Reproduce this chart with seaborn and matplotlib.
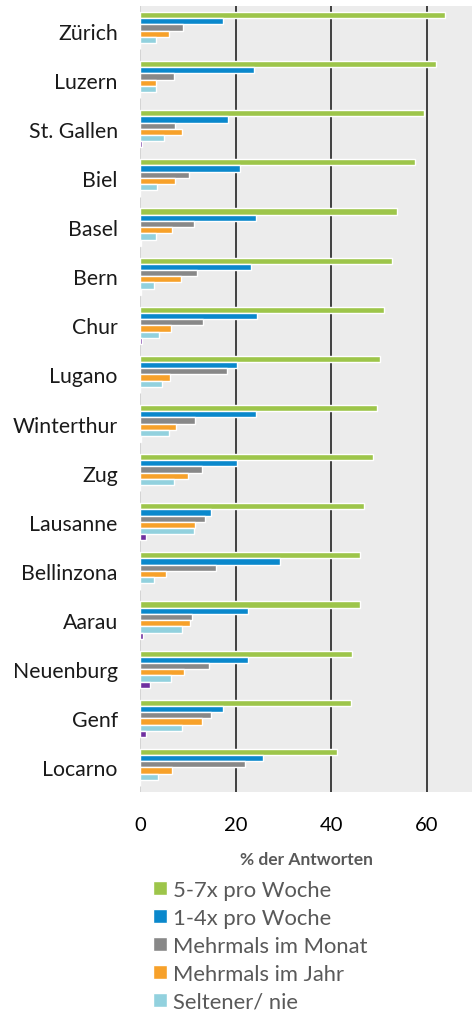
import pandas as pd
import seaborn as sns
import matplotlib.pyplot as plt
from matplotlib.patches import Patch

staedte = ['Zürich', 'Luzern', 'St. Gallen', 'Biel', 'Basel', 'Bern', 'Chur', 'Lugano',
           'Winterthur', 'Zug', 'Lausanne', 'Bellinzona', 'Aarau', 'Neuenburg', 'Genf', 'Locarno']

woche_5_7 = [63.7, 61.9, 59.4, 57.4, 53.8, 52.6, 51.0, 50.2, 49.6, 48.8, 46.9, 46.0, 45.9, 44.4, 44.1, 41.2]
woche_1_4 = [17.4, 23.8, 18.3, 20.8, 24.2, 23.2, 24.4, 20.3, 24.3, 20.3, 14.9, 29.2, 22.6, 22.5, 17.4, 25.8]
monat = [8.9, 7.2, 7.4, 10.2, 11.2, 11.9, 13.1, 18.2, 11.5, 13.0, 13.5, 15.8, 10.8, 14.5, 14.9, 22.0]
jahr = [6.1, 3.3, 8.8, 7.4, 6.6, 8.5, 6.5, 6.2, 7.6, 10.1, 11.6, 5.5, 10.4, 9.3, 12.9, 6.7]
selten = [3.3, 3.3, 5.0, 3.6, 3.3, 2.9, 4.0, 4.5, 6.0, 7.1, 11.2, 2.9, 8.7, 6.4, 8.8, 3.7]
keine_angabe = [0, 0, 0.35, 0, 0.2, 0.3, 0.4, 0, 0.2, 0, 1.2, 0, 0.7, 2.0, 1.2, 0]

serien = ['5-7x pro Woche', '1-4x pro Woche', 'Mehrmals im Monat', 'Mehrmals im Jahr',
          'Seltener/ nie', 'Keine Angabe']
farben = ['#9dc54a', '#0a88cc', '#888888', '#f7a12a', '#92d1de', '#7030a0']

werte = [woche_5_7, woche_1_4, monat, jahr, selten, keine_angabe]
rows = []
for s, vals in zip(serien, werte):
    for stadt, v in zip(staedte, vals):
        rows.append({'Stadt': stadt, 'Serie': s, 'Wert': v})
df = pd.DataFrame(rows)

sns.set_style('white')
plt.rcParams['font.family'] = ['Lato', 'DejaVu Sans']

fig = plt.figure(figsize=(4.72, 10.12), dpi=100)
ax = fig.add_axes([140 / 472, 1 - 793 / 1012, 332 / 472, 786 / 1012])
ax.set_facecolor('#ececec')

sns.barplot(data=df, y='Stadt', x='Wert', hue='Serie', order=staedte, hue_order=serien,
            palette=farben, width=0.76, orient='h', ax=ax, legend=False, saturation=1)

ax.set_xlim(0, 69.4)
ax.set_ylim(len(staedte) - 0.5, -0.5)
ax.set_xticks([0, 20, 40, 60])
ax.grid(axis='x', color='#404040', linewidth=1.4)
ax.get_xgridlines()[0].set_color('#d4d4d4')
ax.set_axisbelow(True)
for sp in ax.spines.values():
    sp.set_visible(False)

ax.tick_params(axis='x', length=0, pad=17, labelsize=14.5, labelcolor='black')
ax.tick_params(axis='y', length=0, pad=16, labelsize=15.3, labelcolor='#1a1a1a')
ax.set_ylabel('')
ax.set_xlabel('% der Antworten', fontsize=12.5, fontweight='bold', color='#595959', labelpad=13)

handles = [Patch(facecolor=c, label=s) for s, c in zip(serien[:5], farben[:5])]
fig.legend(handles=handles, loc='upper left', bbox_to_anchor=(153 / 472, 1 - 881 / 1012),
           frameon=False, fontsize=15.8, labelcolor='#595959', handlelength=0.62,
           handleheight=0.62, handletextpad=0.3, labelspacing=0.36, borderaxespad=0,
           borderpad=0)

fig.savefig('out.png', dpi=100)
